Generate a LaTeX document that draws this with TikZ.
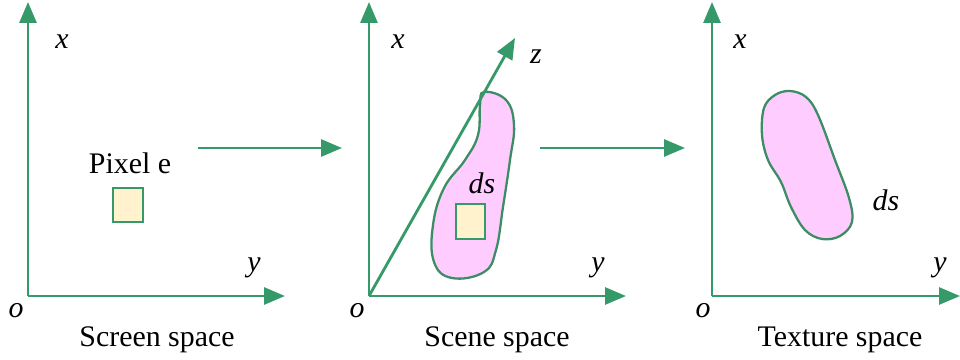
\documentclass[tikz,border=0pt]{standalone}
\usepackage{fontspec}
\setmainfont{Liberation Serif}
\newfontfamily\figserif{Liberation Serif}
\usetikzlibrary{positioning,arrows.meta}
\definecolor{axGreen}{HTML}{35996A}
\definecolor{blobLine}{HTML}{3C8C64}
\definecolor{blobFill}{HTML}{FFCCFF}
\definecolor{pixFill}{HTML}{FFF2CC}
\tikzset{
  ax-line/.style={-{Triangle[length=4.2mm, width=3.4mm]}, line width=1.6pt,
    draw=axGreen},
  ax-label/.style={font=\figserif\fontsize{17}{20}\selectfont\itshape,
    inner sep=0pt},
  cap-label/.style={font=\figserif\fontsize{17}{20}\selectfont, inner sep=0pt},
  pix-box/.style={draw=axGreen, line width=1.3pt, fill=pixFill},
  blob/.style={draw=blobLine, line width=1.3pt, fill=blobFill}
}
\begin{document}
\begin{tikzpicture}[x=0.2mm, y=-0.2mm]
\useasboundingbox (0,0) rectangle (960,360);

% screen space
\coordinate (o1) at (28,296);
\coordinate (x1) at (28,2);
\coordinate (y1) at (285,296);
\draw[ax-line] (o1) -- (x1);
\draw[ax-line] (o1) -- (y1);
\node[ax-label] (lx1) at (62,42) {x};
\node[ax-label] (ly1) at (254,268) {y};
\node[ax-label] (lo1) at (16,311) {o};
\node[cap-label] (pix) at (130,163) {Pixel e};
\draw[pix-box] (113,188) rectangle (143,222);
\node[cap-label] (cap1) at (157,340) {Screen space};

% screen -> scene
\coordinate (a1) at (198,148);
\coordinate (b1) at (342,148);
\draw[ax-line] (a1) -- (b1);

% scene space
\coordinate (o2) at (369,296);
\coordinate (x2) at (369,2);
\coordinate (y2) at (626,296);
\coordinate (z2) at (515,38);
\draw[blob] plot[smooth cycle, tension=0.7] coordinates {
  (484,92) (506,100) (514,125) (510,160) (503,207) (496,250)
  (484,272) (452,278) (434,262) (433,225) (444,188) (465,160)
  (478,135) (480,105)};
\draw[ax-line] (o2) -- (x2);
\draw[ax-line] (o2) -- (y2);
\draw[ax-line] (o2) -- (z2);
\node[ax-label] (lx2) at (398,42) {x};
\node[ax-label] (lz2) at (536,57) {z};
\node[ax-label] (ly2) at (598,268) {y};
\node[ax-label] (lo2) at (357,311) {o};
\node[ax-label] (ds2) at (482,183) {ds};
\draw[pix-box] (456,204) rectangle (485,239);
\node[cap-label] (cap2) at (497,340) {Scene space};

% scene -> texture
\coordinate (a2) at (540,148);
\coordinate (b2) at (685,148);
\draw[ax-line] (a2) -- (b2);

% texture space
\coordinate (o3) at (712,296);
\coordinate (x3) at (712,2);
\coordinate (y3) at (960,296);
\draw[blob] plot[smooth cycle, tension=0.6] coordinates {
  (790,91) (806,97) (818,115) (835,160) (849,198) (852,222)
  (840,236) (822,239) (805,230) (791,207) (781,182) (768,160)
  (762,135) (764,108) (775,95)};
\draw[ax-line] (o3) -- (x3);
\draw[ax-line] (o3) -- (y3);
\node[ax-label] (lx3) at (740,42) {x};
\node[ax-label] (ly3) at (940,268) {y};
\node[ax-label] (lo3) at (703,311) {o};
\node[ax-label] (ds3) at (886,200) {ds};
\node[cap-label] (cap3) at (840,340) {Texture space};
\end{tikzpicture}
\end{document}
